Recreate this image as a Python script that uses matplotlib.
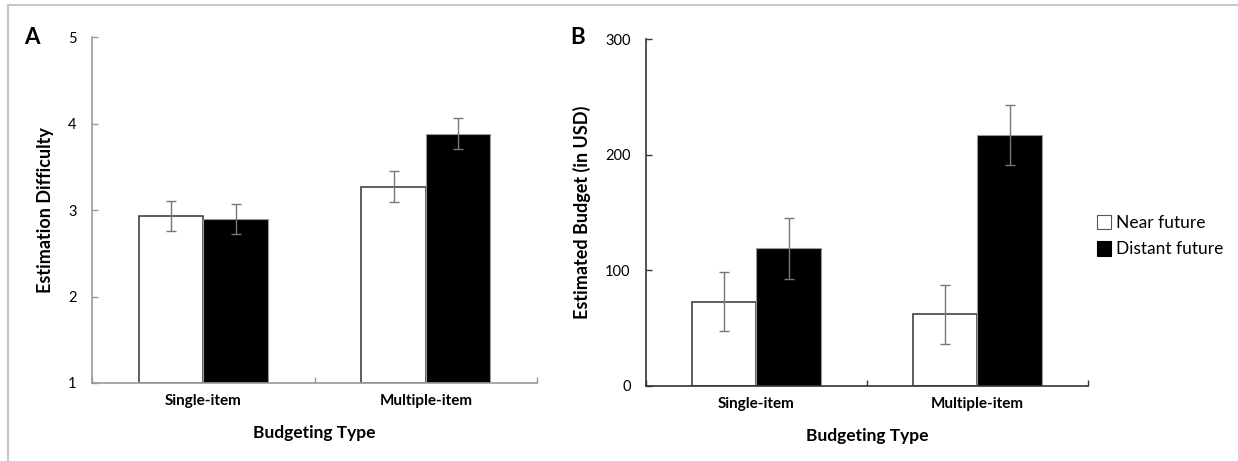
import matplotlib
matplotlib.use("Agg")
import matplotlib.pyplot as plt
import numpy as np
from matplotlib.lines import Line2D
from matplotlib.patches import Patch

categories = ["Single-item", "Multiple-item"]
series = ["Near future", "Distant future"]

# Panel A: Estimation Difficulty
a_near = [2.93, 3.27]
a_distant = [2.90, 3.88]
a_near_err = [0.175, 0.18]
a_distant_err = [0.175, 0.18]

# Panel B: Estimated Budget (in USD)
b_near = [73, 62]
b_distant = [119, 217]
b_near_err = [25.5, 25.5]
b_distant_err = [26.5, 26]

plt.rcParams['font.family'] = ['Lato', 'DejaVu Sans']

fig = plt.figure(figsize=(12.38, 4.61), dpi=100)

axA = fig.add_axes([0.0743, 0.1692, 0.3595, 0.7505])
axB = fig.add_axes([0.5218, 0.1627, 0.3570, 0.7527])

width = 0.29
x = np.arange(len(categories))

def draw(ax, near, dist, near_err, dist_err, ylim, yticks, ylabel, spine_col):
    base = ylim[0]
    ax.bar(x - width / 2, np.array(near) - base, width, bottom=base,
           color='white', edgecolor='#333333', linewidth=1.1, zorder=2)
    ax.bar(x + width / 2, np.array(dist) - base, width, bottom=base,
           color='black', edgecolor='#999999', linewidth=0.8, zorder=2)
    ax.errorbar(x - width / 2, near, yerr=near_err, fmt='none', ecolor='#777777',
                elinewidth=1.0, capsize=3.5, capthick=1.0, zorder=3)
    ax.errorbar(x + width / 2, dist, yerr=dist_err, fmt='none', ecolor='#777777',
                elinewidth=1.0, capsize=3.5, capthick=1.0, zorder=3)
    ax.set_xlim(-0.5, 1.5)
    ax.set_ylim(*ylim)
    ax.set_yticks(yticks)
    ax.set_xticks(x)
    ax.set_xticklabels(categories, fontsize=11, fontweight='bold')
    ax.set_xticks([-0.5, 0.5, 1.5], minor=True)
    ax.tick_params(axis='x', which='major', length=0, pad=8)
    ax.tick_params(axis='x', which='minor', direction='in', length=4, color=spine_col, width=1)
    ax.tick_params(axis='y', direction='in', length=4, pad=11, labelsize=10.5, color=spine_col, width=1)
    for s in ['top', 'right']:
        ax.spines[s].set_visible(False)
    ax.spines['left'].set_color(spine_col)
    ax.spines['bottom'].set_color(spine_col)
    ax.spines['left'].set_linewidth(1.2)
    ax.spines['bottom'].set_linewidth(1.2)
    ax.set_xlabel("Budgeting Type", fontsize=12.5, fontweight='bold', labelpad=12)
    ax.set_ylabel(ylabel, fontsize=13, fontweight='bold', labelpad=10)

draw(axA, a_near, a_distant, a_near_err, a_distant_err, (1, 5), [1, 2, 3, 4, 5],
     "Estimation Difficulty", '#999999')
draw(axB, b_near, b_distant, b_near_err, b_distant_err, (0, 300), [0, 100, 200, 300],
     "Estimated Budget (in USD)", '#333333')

fig.text(32 / 1238, 1 - 37 / 461, "A", fontsize=16, fontweight='bold', ha='center', va='center')
fig.text(578 / 1238, 1 - 37 / 461, "B", fontsize=16, fontweight='bold', ha='center', va='center')

handles = [Patch(facecolor='white', edgecolor='#555555', linewidth=0.8),
           Patch(facecolor='black', edgecolor='black', linewidth=0.8)]
fig.legend(handles, series, loc='center left', bbox_to_anchor=(1088 / 1238, 1 - 236 / 461),
           frameon=False, fontsize=12.5, handlelength=0.8, handleheight=0.9,
           handletextpad=0.3, labelspacing=0.6, borderpad=0)

# light screenshot frame (top and left)
fig.add_artist(Line2D([8 / 1238, 1], [1 - 5 / 461, 1 - 5 / 461], color='#c8c8c8', linewidth=1.5,
                      transform=fig.transFigure))
fig.add_artist(Line2D([8 / 1238, 8 / 1238], [0, 1 - 5 / 461], color='#c8c8c8', linewidth=1.5,
                      transform=fig.transFigure))

fig.savefig("out.png", dpi=100)
